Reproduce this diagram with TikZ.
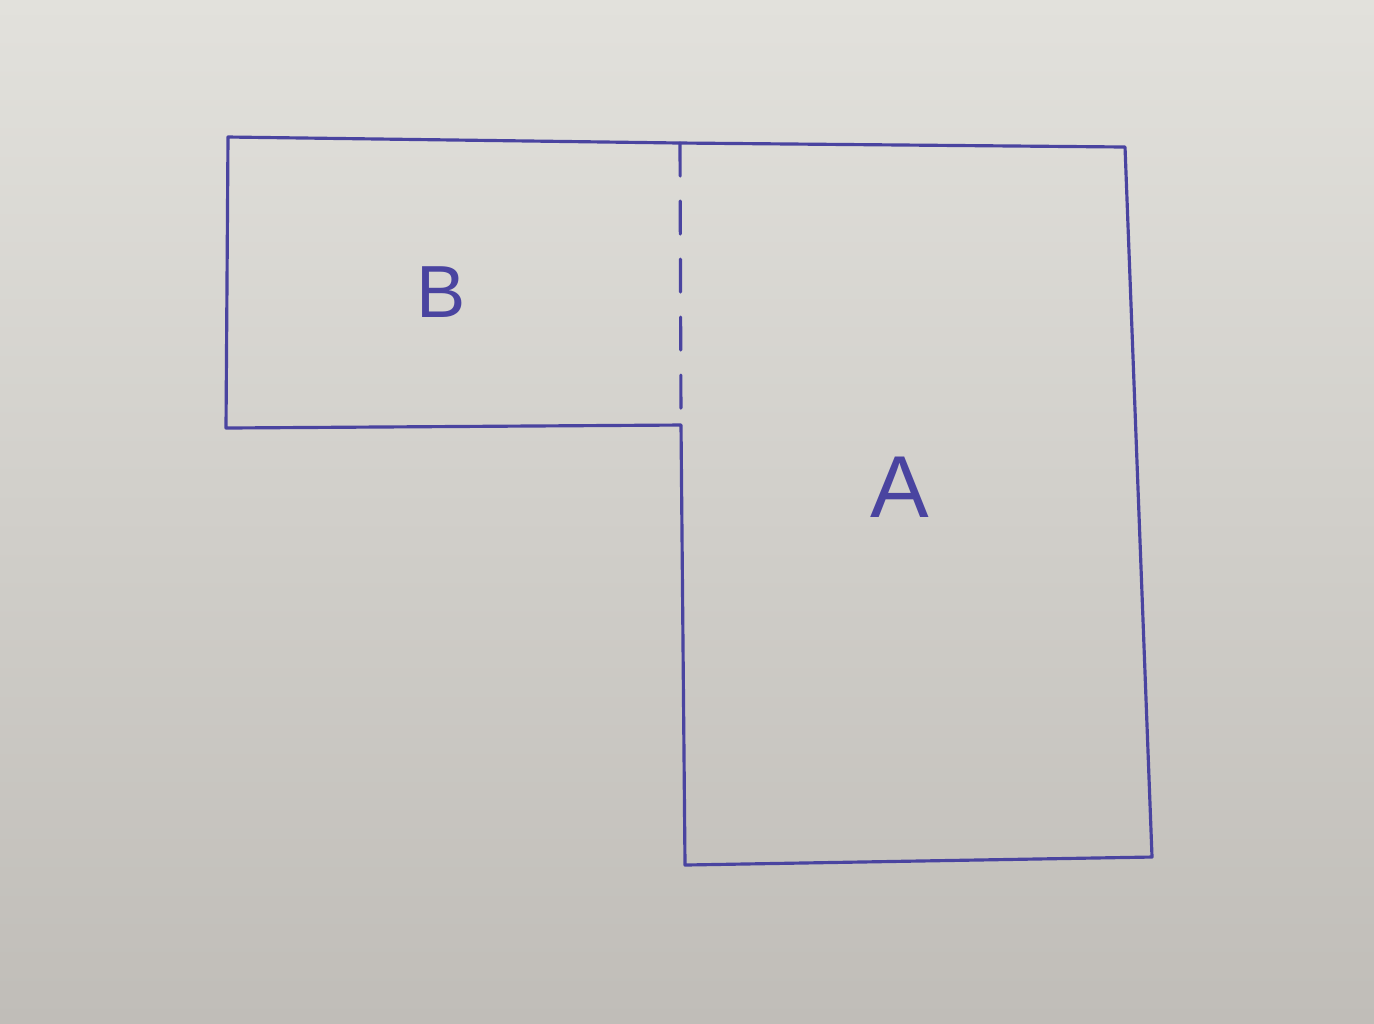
\documentclass[tikz,border=0pt]{standalone}
\usepackage{fontspec}
\setmainfont{Liberation Sans}
\definecolor{ink}{RGB}{74,68,160}
\definecolor{papertop}{RGB}{226,225,220}
\definecolor{paperbot}{RGB}{192,189,184}
\begin{document}
\begin{tikzpicture}[x=0.01cm,y=-0.01cm,
  pen/.style={draw=ink,line width=0.9pt,line join=round,line cap=round},
  penDash/.style={pen,dash pattern=on 0.33cm off 0.25cm},
  letter/.style={text=ink,inner sep=0pt}]
\shade[top color=papertop,bottom color=paperbot] (0,0) rectangle (1374,1023);
\useasboundingbox (0,0) rectangle (1374,1023);
% corners
\coordinate (btl) at (228,137);
\coordinate (bbl) at (226,428);
\coordinate (mt) at (680,143);
\coordinate (mb) at (681,425);
\coordinate (atr) at (1125,147);
\coordinate (abl) at (685,865);
\coordinate (abr) at (1152,857);
% outline
\draw[pen] (mb) -- (bbl) -- (btl) -- (mt) -- (atr) -- (abr) -- (abl) -- (mb);
% dashed division
\draw[penDash] (mt) -- (mb);
% labels
\node[letter,font=\fontsize{21}{21}\selectfont] (B) at (441,292) {B};
\node[letter,font=\fontsize{25}{25}\selectfont] (A) at (900,487) {A};
\end{tikzpicture}
\end{document}
